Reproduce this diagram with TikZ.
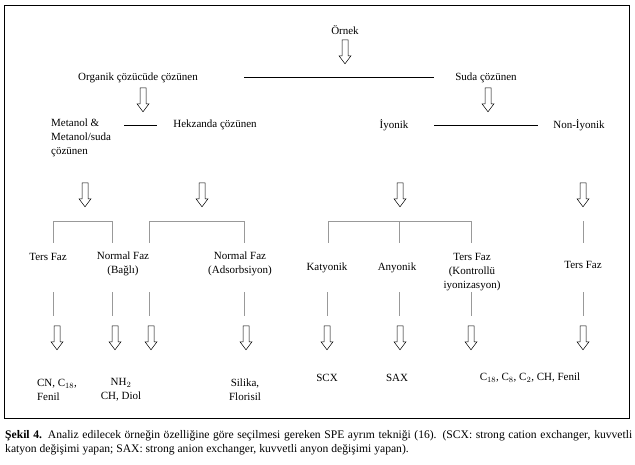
\documentclass[tikz,border=0pt]{standalone}
\usepackage{fontspec}
\setmainfont{Liberation Serif}
\begin{document}
\begin{tikzpicture}[x=1pt,y=-1pt,font=\fontsize{11}{14}\selectfont,
    every node/.style={inner sep=0pt},
    down/.style={minimum width=12pt, minimum height=24pt},
    hollow/.style={line width=0.5pt},
    stem/.style={gray!80, line width=0.6pt},
    link/.style={line width=0.6pt}]
    \useasboundingbox (0,0) rectangle (635,464);
    \draw[line width=0.7pt] (4,5) rectangle (629,418);

    % Top levels
    \node (ornek) at (345,30) {Örnek};
    \node[down] (a0) at (345,52) {};
    \node (org) at (138,78) {Organik çözücüde çözünen};
    \node (suda) at (486,78) {Suda çözünen};
    \node[down] (a1) at (143,100) {};
    \node[down] (a2) at (488,100) {};
    \node[align=left, anchor=north west] (met) at (51,119) {Metanol \&\\Metanol/suda\\çözünen};
    \node (hek) at (215,125) {Hekzanda çözünen};
    \node (iyo) at (394,125) {İyonik};
    \node (non) at (579,125) {Non-İyonik};

    % Horizontal links
    \coordinate (l0a) at (244,77); \coordinate (l0b) at (434,77);
    \coordinate (l1a) at (124,125); \coordinate (l1b) at (157,125);
    \coordinate (l2a) at (434,125); \coordinate (l2b) at (538,125);
    \draw[link] (l0a) -- (l0b);
    \draw[link] (l1a) -- (l1b);
    \draw[link] (l2a) -- (l2b);

    % Second arrows
    \node[down] (a3) at (85,195) {};
    \node[down] (a4) at (202,195) {};
    \node[down] (a5) at (400,195) {};
    \node[down] (a6) at (583,195) {};

    % Brackets
    \coordinate (b1) at (53,221); \coordinate (b2) at (112,221);
    \coordinate (b3) at (149,221); \coordinate (b4) at (244,221);
    \coordinate (b5) at (328,221); \coordinate (b6) at (399,221);
    \coordinate (b7) at (471,221); \coordinate (b8) at (583,221);
    \draw[stem] (b1) -- ++(0,22) (b1) -- (b2) -- ++(0,22);
    \draw[stem] (b3) -- ++(0,22) (b3) -- (b4) -- ++(0,22);
    \draw[stem] (b5) -- ++(0,22) (b5) -- (b7) -- ++(0,22) (b6) -- ++(0,22);
    \draw[stem] (b8) -- ++(0,22);

    % Methods
    \node (ters1) at (48,257) {Ters Faz};
    \node[align=center] (nbag) at (123,264) {Normal Faz\\(Bağlı)};
    \node[align=center] (nads) at (240,264) {Normal Faz\\(Adsorbsiyon)};
    \node (kat) at (327,268) {Katyonik};
    \node (any) at (397,268) {Anyonik};
    \node[align=center] (tkon) at (472,272) {Ters Faz\\(Kontrollü\\iyonizasyon)};
    \node (ters2) at (583,265) {Ters Faz};

    % Lower stems
    \foreach \x in {53,112,149,244,327,399,471,583}
      \draw[stem] (\x,292) -- (\x,316);

    % Bottom arrows
    \foreach \x/\n in {57/c1,115/c2,151/c3,246/c4,327/c5,400/c6,471/c7,583/c8}
      \node[down] (\n) at (\x,338) {};

    % Hollow arrow outlines
    \foreach \n in {a0,a1,a2,a3,a4,a5,a6,c1,c2,c3,c4,c5,c6,c7,c8}
      \draw[hollow] (\n.north) ++(-3,0) -- ++(6,0) -- ++(0,16) -- ++(3,0)
        -- ++(-6,8) -- ++(-6,-8) -- ++(3,0) -- cycle;

    % Phases
    \node[align=left] (cn) at (57,390) {CN, C$_{18}$,\\Fenil};
    \node[align=center] (nh) at (121,390) {NH$_2$\\CH, Diol};
    \node[align=center] (sil) at (245,390) {Silika,\\Florisil};
    \node (scx) at (327,378) {SCX};
    \node (sax) at (397,378) {SAX};
    \node (cc) at (530,378) {C$_{18}$, C$_8$, C$_2$, CH, Fenil};

    % Caption
    \node[anchor=north west, text width=627pt, align=justify,
      font=\fontsize{11.6}{14}\selectfont] (cap) at (5,430)
      {\textbf{Şekil 4.} Analiz edilecek örneğin özelliğine göre seçilmesi gereken SPE ayrım tekniği (16). (SCX: strong cation exchanger, kuvvetli katyon değişimi yapan; SAX: strong anion exchanger, kuvvetli anyon değişimi yapan).};
\end{tikzpicture}
\end{document}
